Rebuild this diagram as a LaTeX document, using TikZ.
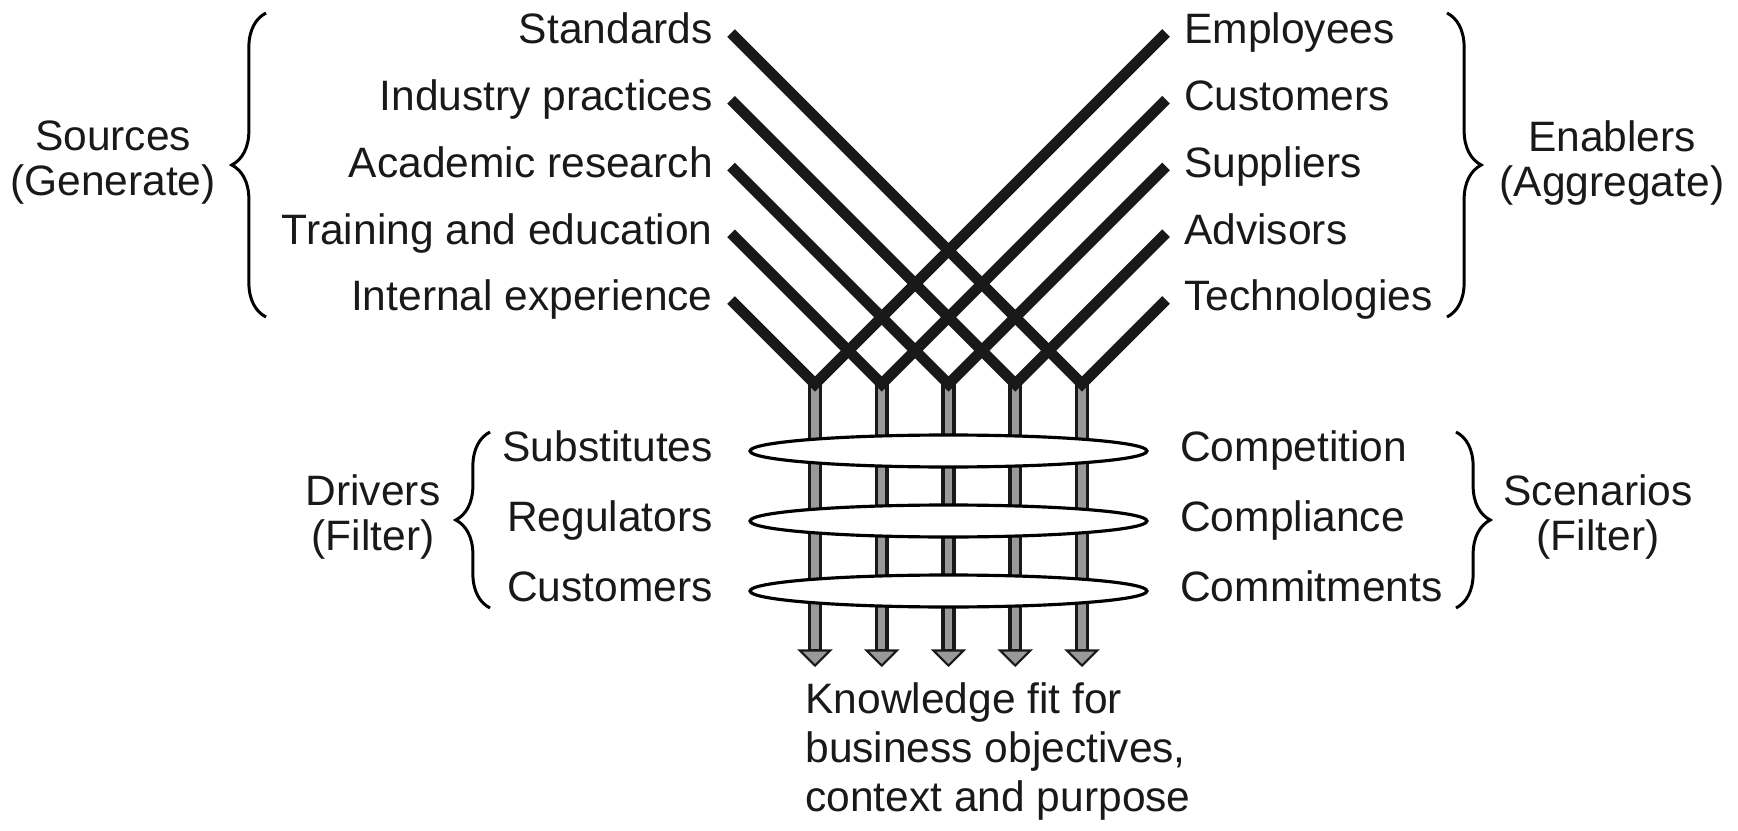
\documentclass[tikz,border=0pt]{standalone}
\usepackage{fontspec}
\setmainfont{Liberation Sans}
\usetikzlibrary{shapes.geometric, arrows.meta, decorations.pathreplacing}

\begin{document}
\begin{tikzpicture}[
  x=0.02cm, y=-0.02cm,
  lbl/.style={font=\fontsize{24.2pt}{29pt}\selectfont, text=black!90, inner ysep=0pt, inner xsep=10.2pt, text height=17.6pt, text depth=5.1pt},
  grp/.style={font=\fontsize{24.2pt}{25.6pt}\selectfont, text=black!90, align=center, inner sep=0pt},
  bar/.style={line width=6.2pt, black!90},
  shaft/.style={line width=8pt, black!90, -{Triangle[length=10pt, width=20pt, fill=black!40, line width=1.2pt]}},
  core/.style={line width=4.2pt, black!40, shorten >=10.5pt},
  ring/.style={ellipse, draw, line width=1.8pt, fill=white, minimum width=7.94cm, minimum height=0.64cm, inner sep=0pt},
  brc/.style={decorate, decoration={brace, amplitude=19.5pt}, line width=1.7pt}
]
  \useasboundingbox (0,0) rectangle (1738,831);

  % sources and enablers
  \node[lbl, anchor=east] (std) at (731,33) {Standards};
  \node[lbl, anchor=east] (ind) at (731,99.75) {Industry practices};
  \node[lbl, anchor=east] (aca) at (731,166.5) {Academic research};
  \node[lbl, anchor=east] (trn) at (731,233.25) {Training and education};
  \node[lbl, anchor=east] (int) at (731,300) {Internal experience};

  \node[lbl, anchor=west] (emp) at (1166,33) {Employees};
  \node[lbl, anchor=west] (cus) at (1166,99.75) {Customers};
  \node[lbl, anchor=west] (sup) at (1166,166.5) {Suppliers};
  \node[lbl, anchor=west] (adv) at (1166,233.25) {Advisors};
  \node[lbl, anchor=west] (tec) at (1166,300) {Technologies};

  \node[grp] (srcs) at (113,163) {Sources\\(Generate)};
  \node[grp] (enab) at (1612,163) {Enablers\\(Aggregate)};
  \draw[brc] (266,317) -- (266,13);
  \draw[brc] (1447,13) -- (1447,317);

  \coordinate (v0) at (815,384);
  \coordinate (v1) at (881.75,384);
  \coordinate (v2) at (948.5,384);
  \coordinate (v3) at (1015.25,384);
  \coordinate (v4) at (1082,384);
  \coordinate (t0) at (815,667);
  \coordinate (t1) at (881.75,667);
  \coordinate (t2) at (948.5,667);
  \coordinate (t3) at (1015.25,667);
  \coordinate (t4) at (1082,667);

  % flows down
  \draw[shaft] (v0) -- (t0); \draw[core] (v0) -- (t0);
  \draw[shaft] (v1) -- (t1); \draw[core] (v1) -- (t1);
  \draw[shaft] (v2) -- (t2); \draw[core] (v2) -- (t2);
  \draw[shaft] (v3) -- (t3); \draw[core] (v3) -- (t3);
  \draw[shaft] (v4) -- (t4); \draw[core] (v4) -- (t4);

  \draw[bar] (int.east) -- (v0) -- (emp.west);
  \draw[bar] (trn.east) -- (v1) -- (cus.west);
  \draw[bar] (aca.east) -- (v2) -- (sup.west);
  \draw[bar] (ind.east) -- (v3) -- (adv.west);
  \draw[bar] (std.east) -- (v4) -- (tec.west);

  % filters
  \node[ring] (f1) at (948.5,451) {};
  \node[ring] (f2) at (948.5,521) {};
  \node[ring] (f3) at (948.5,591) {};

  \node[lbl, anchor=east] (sub) at (731,451) {Substitutes};
  \node[lbl, anchor=east] (reg) at (731,521) {Regulators};
  \node[lbl, anchor=east] (cst) at (731,591) {Customers};
  \node[lbl, anchor=west] (cmp) at (1162,451) {Competition};
  \node[lbl, anchor=west] (cpl) at (1162,521) {Compliance};
  \node[lbl, anchor=west] (cmt) at (1162,591) {Commitments};

  \node[grp] (drv) at (373,517) {Drivers\\(Filter)};
  \node[grp] (scn) at (1598,517) {Scenarios\\(Filter)};
  \draw[brc] (490,608) -- (490,432);
  \draw[brc] (1456,432) -- (1456,608);

  \node[anchor=north west, align=left, inner sep=0pt, text=black!90, font=\fontsize{24.2pt}{27.9pt}\selectfont] (out) at (805,682) {Knowledge fit for\\business objectives,\\context and purpose};
\end{tikzpicture}
\end{document}
